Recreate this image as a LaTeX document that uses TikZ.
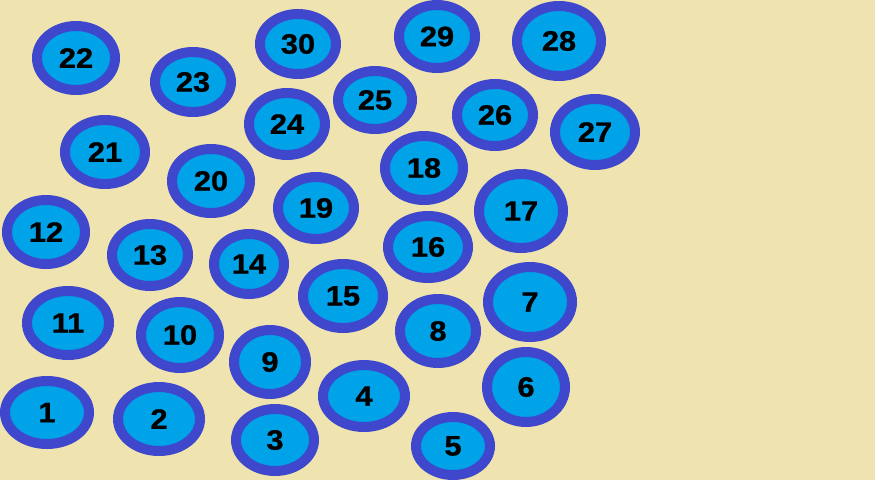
\documentclass[tikz,border=0pt]{standalone}
\usepackage{fontspec}
\setmainfont{Liberation Sans}[BoldFeatures={FakeBold=0.8}]
\usetikzlibrary{shapes.geometric}
\definecolor{bgcol}{HTML}{EFE4B0}
\definecolor{fillcol}{HTML}{00A2E8}
\definecolor{edgecol}{HTML}{3F48CC}
\tikzset{
  bub/.style={ellipse, draw=edgecol, fill=fillcol, line width=10pt, inner sep=0pt, outer sep=0pt,
    font=\fontsize{28}{32}\selectfont\bfseries, text=black}
}
\begin{document}
\begin{tikzpicture}[x=1pt,y=-1pt]
\fill[bgcol] (0,0) rectangle (875,480);
\useasboundingbox (0,0) rectangle (875,480);
\foreach \n/\px/\py/\a/\b in {
  1/47/412.5/47/36.5, 2/159/419/46/37, 3/275/440/44/36, 4/364/396/46/36, 5/453/446/42/34,
  6/526/387/44/40, 7/530/302/47/40, 8/438/331/43/37, 9/270/362/41/37, 10/180/335/44/38,
  11/68/323/46/37, 12/46/232/44/37, 13/150/255/43/36, 14/249/264/40/35, 15/343/296/45/37,
  16/428/247/45/36, 17/521/211/47/42, 18/424/168/44/37, 19/316/208/43/36, 20/211/181/44/37,
  21/105/152/45/37, 22/76/58/44/37, 23/193/82/43/35, 24/287/124/43/36, 25/375/100/42/34,
  26/495/115/43/36, 27/595/132/45/38, 28/559/41/47/40, 29/437/36.5/43/36.5, 30/298/44/43/35}
{
  \node[bub, minimum width={2*\a-10}, minimum height={2*\b-10}] (n\n) at (\px,\py) {\scalebox{1.1}[1]{\n}};
}
\end{tikzpicture}
\end{document}
